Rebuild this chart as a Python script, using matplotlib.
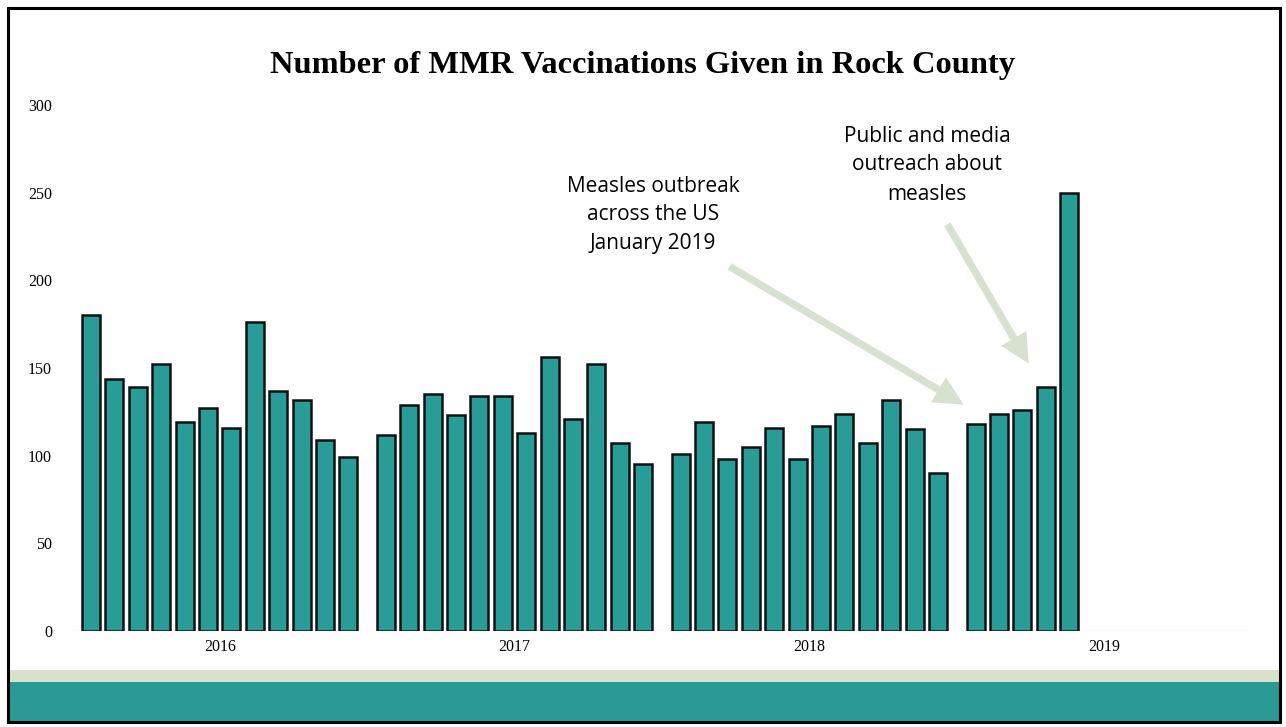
import matplotlib
matplotlib.use("Agg")
import matplotlib.pyplot as plt
from matplotlib.patches import Rectangle, FancyArrowPatch

# Monthly MMR vaccinations, Rock County
years = ["2016", "2017", "2018", "2019"]
counts_2016 = [180, 144, 139, 152, 119, 127, 116, 176, 137, 132, 109, 99]
counts_2017 = [112, 129, 135, 123, 134, 134, 113, 156, 121, 152, 107, 95]
counts_2018 = [101, 119, 98, 105, 116, 98, 117, 124, 107, 132, 115, 90]
counts_2019 = [118, 124, 126, 139, 250]
series = [counts_2016, counts_2017, counts_2018, counts_2019]

y_ticks = [0, 50, 100, 150, 200, 250, 300]
title = "Number of MMR Vaccinations Given in Rock County"
note_outbreak = "Measles outbreak\nacross the US\nJanuary 2019"
note_outreach = "Public and media\noutreach about\nmeasles"

bar_color = "#2a9c97"
band_color = "#2b9a96"
arrow_color = "#d6e2cf"

W, H = 1286, 727
fig = plt.figure(figsize=(W / 100, H / 100), dpi=100)
fig.patch.set_facecolor("white")

# axes placed in pixel terms
ax_left, ax_right = 70, 1250
ax_bottom, ax_top = 631, 105
ax = fig.add_axes([ax_left / W, 1 - ax_bottom / H,
                   (ax_right - ax_left) / W, (ax_bottom - ax_top) / H])
ax.set_facecolor("none")

slot_px = 23.4
group_gap = 0.6  # extra slots between years
x0 = -(91 - ax_left) / slot_px
x1 = x0 + (ax_right - ax_left) / slot_px
ax.set_xlim(x0, x1)
ax.set_ylim(0, 300)

year_centers = []
for g, vals in enumerate(series):
    start = g * (12 + group_gap)
    pos = [start + i for i in range(len(vals))]
    ax.bar(pos, vals, width=0.77, color=bar_color, edgecolor="#111111",
           linewidth=1.8, zorder=3)
    year_centers.append(start + 5.5)

ax.set_xticks(year_centers)
ax.set_xticklabels(years, fontfamily="Liberation Serif", fontsize=11.5)
ax.tick_params(axis="x", length=0, pad=6)
ax.set_yticks(y_ticks)
ax.set_yticklabels([str(t) for t in y_ticks], fontfamily="Liberation Serif",
                   fontsize=11.5)
ax.tick_params(axis="y", length=0, pad=13)
for s in ax.spines.values():
    s.set_visible(False)
ax.axhline(0, color="#bbbbbb", linewidth=0.8, zorder=2)

fig.text(643 / W, 1 - 66 / H, title, ha="center", va="center",
         fontfamily="Liberation Serif", fontweight="bold", fontsize=23.4)

fig.text(653 / W, 1 - 215 / H, note_outbreak, ha="center", va="center",
         fontfamily="Open Sans", fontsize=15, linespacing=1.5)
fig.text(927 / W, 1 - 165 / H, note_outreach, ha="center", va="center",
         fontfamily="Open Sans", fontsize=15, linespacing=1.5)

def fig_arrow(p_from, p_to):
    a = FancyArrowPatch((p_from[0] / W, 1 - p_from[1] / H),
                        (p_to[0] / W, 1 - p_to[1] / H),
                        transform=fig.transFigure,
                        arrowstyle="simple,head_length=1.5,head_width=1.5,tail_width=0.38",
                        mutation_scale=14, color=arrow_color, lw=0)
    fig.patches.append(a)

fig_arrow((727, 265), (966, 406))
fig_arrow((946, 222), (1030, 366))

# bottom band
fig.patches.append(Rectangle((8 / W, 1 - 682 / H), (1280 - 8) / W, 12 / H,
                             transform=fig.transFigure, color="#d9e1cd", lw=0))
fig.patches.append(Rectangle((8 / W, 1 - 721 / H), (1280 - 8) / W, 39 / H,
                             transform=fig.transFigure, color=band_color, lw=0))
# outer frame
fig.patches.append(Rectangle((8 / W, 1 - 722 / H), (1280 - 8) / W, (722 - 8) / H,
                             transform=fig.transFigure, fill=False,
                             edgecolor="black", lw=2.2))

fig.savefig("out.png", dpi=100)
